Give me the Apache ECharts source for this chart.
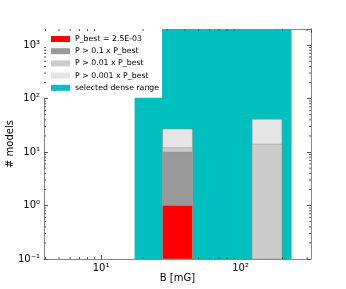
<!DOCTYPE html>
<html>
<head>
<meta charset="utf-8">
<script src="https://cdn.jsdelivr.net/npm/echarts@6/dist/echarts.min.js"></script>
<style>html,body{margin:0;padding:0;background:#fff}#c{width:346px;height:289px}</style>
</head>
<body>
<div id="c"></div>
<script>
// Histogram bin edges (B in mG)
const binLeft  = [27.6, 121];
const binRight = [45.2, 198];
// Counts per bin for each threshold
const countBest   = [1, 0];
const count01     = [10, 0];
const count001    = [12, 14];
const count0001   = [27, 41];
// Selected dense range (B in mG)
const denseRange = [17.4, 232];
// Axis limits
const xLimits = [3.9, 320];
const yLimits = [0.1, 2000];

const seriesNames = ['P_best = 2.5E-03', 'P > 0.1 x P_best', 'P > 0.01 x P_best', 'P > 0.001 x P_best', 'selected dense range'];
const seriesColors = ['#ff0000', '#999999', '#cccccc', '#e5e5e5', '#00bfbf'];

const FONT = 'DejaVu Sans';

function barData(counts) {
  const out = [];
  counts.forEach((c, i) => { if (c > 0) out.push([binLeft[i], binRight[i], c]); });
  return out;
}

function renderRect(color, stroke) {
  return function (params, api) {
    const x0 = api.value(0), x1 = api.value(1), y = api.value(2);
    const p0 = api.coord([x0, y]);
    const p1 = api.coord([x1, yLimits[0]]);
    return {
      type: 'rect',
      shape: { x: p0[0], y: p0[1], width: p1[0] - p0[0], height: p1[1] - p0[1] },
      style: { fill: color, stroke: stroke, lineWidth: stroke ? 1 : 0 }
    };
  };
}

// minor ticks values (2..9 x 10^n)
function minorVals(lo, hi) {
  const v = [];
  for (let e = -2; e <= 4; e++) {
    for (let m = 2; m <= 9; m++) {
      const val = m * Math.pow(10, e);
      if (val > lo && val < hi) v.push(val);
    }
  }
  return v;
}
const xMinor = minorVals(xLimits[0], xLimits[1]);
const yMinor = minorVals(yLimits[0], yLimits[1]);

const SUP = { '-': '\u207B', '0': '\u2070', '1': '\u00B9', '2': '\u00B2', '3': '\u00B3', '4': '\u2074' };
function supFmt(v) {
  const l = Math.log10(v);
  const r = Math.round(l);
  if (Math.abs(l - r) > 1e-6) return '';
  return '10' + String(r).split('').map(ch => SUP[ch]).join('');
}

const chart = echarts.init(document.getElementById('c'), null, { renderer: 'canvas' });

const axisLineStyle = { show: true, lineStyle: { color: '#888', width: 1 } };
const tickStyle = { show: true, inside: true, length: 4, lineStyle: { color: '#555' } };

const option = {
  animation: false,
  backgroundColor: '#fff',
  grid: { left: 44, top: 29, right: 35, bottom: 30, containLabel: false, outerBoundsMode: 'none' },
  legend: {
    left: 44, top: 29,
    orient: 'vertical',
    itemWidth: 19, itemHeight: 6, itemGap: 0.2,
    icon: 'rect',
    backgroundColor: '#fff',
    padding: [4, 3, 4, 7],
    textStyle: { fontFamily: FONT, fontSize: 7.8, color: '#000', lineHeight: 12 },
    data: seriesNames.map((n, i) => ({ name: n, icon: 'rect', itemStyle: { color: seriesColors[i], borderWidth: 0 }, lineStyle: { opacity: 0, width: 0 } }))
  },
  xAxis: [
    {
      type: 'log', logBase: 10, min: xLimits[0], max: xLimits[1],
      name: 'B [mG]', nameLocation: 'middle', nameGap: 14, nameMoveOverlap: false,
      nameTextStyle: { fontFamily: FONT, fontSize: 10, color: '#000' },
      axisLine: axisLineStyle, axisTick: tickStyle,
      axisLabel: { show: true, formatter: supFmt, fontFamily: FONT, fontSize: 10, color: '#000', margin: 4, showMinLabel: false, showMaxLabel: false },
      splitLine: { show: false }
    },
    {
      type: 'log', logBase: 10, min: xLimits[0], max: xLimits[1], position: 'top',
      axisLine: axisLineStyle, axisTick: tickStyle,
      axisLabel: { show: false }, splitLine: { show: false }
    }
  ],
  yAxis: [
    {
      type: 'log', logBase: 10, min: yLimits[0], max: yLimits[1],
      name: '# models', nameLocation: 'middle', nameGap: 29, nameRotate: 90, nameMoveOverlap: false,
      nameTextStyle: { fontFamily: FONT, fontSize: 10, color: '#000' },
      axisLine: axisLineStyle, axisTick: tickStyle,
      axisLabel: { show: true, formatter: supFmt, fontFamily: FONT, fontSize: 10, color: '#000', margin: 4, showMaxLabel: false },
      splitLine: { show: false }
    },
    {
      type: 'log', logBase: 10, min: yLimits[0], max: yLimits[1], position: 'right',
      axisLine: axisLineStyle, axisTick: tickStyle,
      axisLabel: { show: false }, splitLine: { show: false }
    }
  ],
  series: [
    {
      name: seriesNames[4], type: 'custom', z: 1,
      itemStyle: { color: seriesColors[4] },
      encode: { x: [0, 1], y: 2 },
      renderItem: renderRect(seriesColors[4], null),
      data: [[denseRange[0], denseRange[1], yLimits[1]]]
    },
    {
      name: seriesNames[3], type: 'custom', z: 2,
      itemStyle: { color: seriesColors[3] },
      encode: { x: [0, 1], y: 2 },
      renderItem: renderRect(seriesColors[3], 'rgba(150,150,150,0.6)'),
      data: barData(count0001)
    },
    {
      name: seriesNames[2], type: 'custom', z: 3,
      itemStyle: { color: seriesColors[2] },
      encode: { x: [0, 1], y: 2 },
      renderItem: renderRect(seriesColors[2], 'rgba(150,150,150,0.6)'),
      data: barData(count001)
    },
    {
      name: seriesNames[1], type: 'custom', z: 4,
      itemStyle: { color: seriesColors[1] },
      encode: { x: [0, 1], y: 2 },
      renderItem: renderRect(seriesColors[1], 'rgba(150,150,150,0.6)'),
      data: barData(count01)
    },
    {
      name: seriesNames[0], type: 'custom', z: 5,
      itemStyle: { color: seriesColors[0] },
      encode: { x: [0, 1], y: 2 },
      renderItem: renderRect(seriesColors[0], 'rgba(150,150,150,0.6)'),
      data: barData(countBest)
    },
    {
      name: 'minorTicks', type: 'custom', z: 10, silent: true,
      encode: { x: 0, y: 1 },
      renderItem: function (params, api) {
        const kind = api.value(2);
        const v = kind === 0 ? api.value(0) : api.value(1);
        const children = [];
        const st = { stroke: '#555', lineWidth: 1 };
        if (kind === 0) {
          const pb = api.coord([v, yLimits[0]]);
          const pt = api.coord([v, yLimits[1]]);
          children.push({ type: 'line', shape: { x1: pb[0], y1: pb[1], x2: pb[0], y2: pb[1] - 2 }, style: st });
          children.push({ type: 'line', shape: { x1: pt[0], y1: pt[1], x2: pt[0], y2: pt[1] + 2 }, style: st });
        } else {
          const pl = api.coord([xLimits[0], v]);
          const pr = api.coord([xLimits[1], v]);
          children.push({ type: 'line', shape: { x1: pl[0], y1: pl[1], x2: pl[0] + 2, y2: pl[1] }, style: st });
          children.push({ type: 'line', shape: { x1: pr[0], y1: pr[1], x2: pr[0] - 2, y2: pr[1] }, style: st });
        }
        return { type: 'group', children: children };
      },
      data: xMinor.map(v => [v, 1, 0]).concat(yMinor.map(v => [10, v, 1]))
    }
  ]
};
chart.setOption(option);
</script>
</body>
</html>
